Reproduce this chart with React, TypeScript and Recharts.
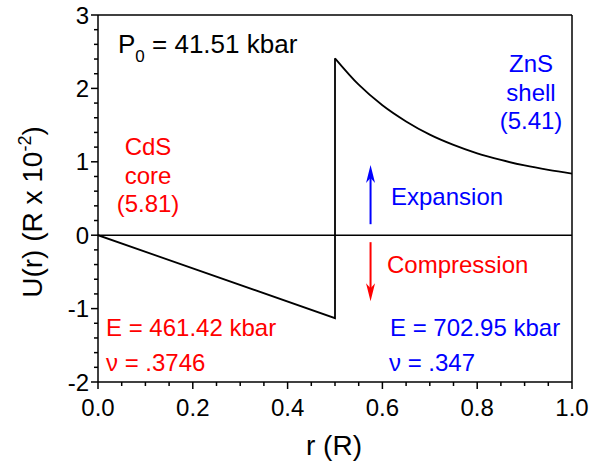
import { LineChart, Line, XAxis, YAxis, ReferenceLine } from "recharts";

// Displacement profile of a CdS/ZnS core/shell particle under pressure.
const coreR = [0, 0.5, 0.5];
const coreU = [0, -1.13, 2.41];

const shellR = [0.5, 0.55, 0.6, 0.65, 0.7, 0.75, 0.8, 0.85, 0.9, 0.95, 1.0];
const shellU = [2.41, 2.05, 1.77, 1.55, 1.37, 1.23, 1.115, 1.025, 0.95, 0.89, 0.84];

const xMajorTicks = [0, 0.2, 0.4, 0.6, 0.8, 1.0];
const yMajorTicks = [-2, -1, 0, 1, 2, 3];

const W = 601;
const H = 463;
const FONT = "'Liberation Sans', Arial, sans-serif";
const RED = "#ff0000";
const BLUE = "#0000ff";

const coreData = coreR.map((r, i) => ({ r, u: coreU[i] }));
const shellData = shellR.map((r, i) => ({ r, u: shellU[i] }));

// minor ticks: 4 per major step on x, 5 per major step on y
const xTicks: number[] = [];
for (let i = 0; i <= 20; i++) xTicks.push(Math.round(i * 5) / 100);
const yTicks: number[] = [];
for (let i = 0; i <= 25; i++) yTicks.push(Math.round((-2 + i * 0.2) * 10) / 10);

const isOn = (v: number, list: number[]) => list.some((t) => Math.abs(t - v) < 1e-6);

function XTick(props: any) {
  const { x, y, payload } = props;
  const major = isOn(payload.value, xMajorTicks);
  return (
    <g>
      <line x1={x} x2={x} y1={y} y2={y + (major ? 7 : 4)} stroke="#000" strokeWidth={1.5} />
      {major && (
        <text x={x} y={y + 34} textAnchor="middle" fontSize={24} fontFamily={FONT} fill="#000">
          {payload.value.toFixed(1)}
        </text>
      )}
    </g>
  );
}

function YTick(props: any) {
  const { x, y, payload } = props;
  const major = isOn(payload.value, yMajorTicks);
  return (
    <g>
      <line x1={x - (major ? 7 : 4)} x2={x} y1={y} y2={y} stroke="#000" strokeWidth={1.5} />
      {major && (
        <text x={x - 9} y={y + 8.5} textAnchor="end" fontSize={24} fontFamily={FONT} fill="#000">
          {String(payload.value)}
        </text>
      )}
    </g>
  );
}

// vertical arrow with a notched head at the second segment point
function arrowShape(color: string) {
  return (props: any) => {
    const { x1, y1, x2, y2 } = props;
    const dir = y2 < y1 ? -1 : 1;
    const len = 18;
    const half = 4.5;
    return (
      <g>
        <line x1={x1} y1={y1} x2={x2} y2={y2 - dir * 12} stroke={color} strokeWidth={2} />
        <polygon
          points={`${x2},${y2} ${x2 - half},${y2 - dir * len} ${x2},${y2 - dir * 13} ${x2 + half},${y2 - dir * len}`}
          fill={color}
        />
      </g>
    );
  };
}

const txt = { fontFamily: FONT, fontSize: 24 };

export default function App() {
  return (
    <div style={{ position: "absolute", left: 0, top: 0, width: W, height: H, background: "#fff" }}>
      <LineChart width={W} height={H} margin={{ top: 15, right: 29, bottom: 0, left: 0 }}>
        <XAxis
          type="number"
          dataKey="r"
          domain={[0, 1]}
          ticks={xTicks}
          interval={0}
          tick={<XTick />}
          tickLine={false}
          tickSize={0}
          tickMargin={0}
          height={81}
          axisLine={{ stroke: "#000", strokeWidth: 1.5 }}
          allowDataOverflow
        />
        <YAxis
          type="number"
          dataKey="u"
          domain={[-2, 3]}
          ticks={yTicks}
          interval={0}
          tick={<YTick />}
          tickLine={false}
          tickSize={0}
          tickMargin={0}
          width={98}
          axisLine={{ stroke: "#000", strokeWidth: 1.5 }}
          allowDataOverflow
        />
        {/* frame top / right */}
        <ReferenceLine y={3} stroke="#000" strokeWidth={1.5} />
        <ReferenceLine x={1} stroke="#000" strokeWidth={1.5} />
        <ReferenceLine y={0} stroke="#000" strokeWidth={1.5} />
        <ReferenceLine
          segment={[{ x: 0.575, y: 0.15 }, { x: 0.575, y: 0.955 }]}
          shape={arrowShape(BLUE)}
        />
        <ReferenceLine
          segment={[{ x: 0.575, y: -0.095 }, { x: 0.575, y: -0.9 }]}
          shape={arrowShape(RED)}
        />
        <Line
          data={coreData}
          dataKey="u"
          type="linear"
          stroke="#000"
          strokeWidth={1.8}
          dot={false}
          isAnimationActive={false}
        />
        <Line
          data={shellData}
          dataKey="u"
          type="monotone"
          stroke="#000"
          strokeWidth={1.8}
          dot={false}
          isAnimationActive={false}
        />
      </LineChart>
      <svg
        width={W}
        height={H}
        style={{ position: "absolute", left: 0, top: 0, pointerEvents: "none" }}
      >
        <text x={118} y={53} fontFamily={FONT} fontSize={26} fill="#000">
          P<tspan fontSize={17} dy={9}>0</tspan>
          <tspan dy={-9}> = 41.51 kbar</tspan>
        </text>

        <g {...txt} fill={RED} textAnchor="middle">
          <text x={148} y={155}>CdS</text>
          <text x={148} y={184}>core</text>
          <text x={148} y={212}>(5.81)</text>
        </g>
        <g {...txt} fill={BLUE} textAnchor="middle">
          <text x={531} y={72}>ZnS</text>
          <text x={531} y={101}>shell</text>
          <text x={531} y={129}>(5.41)</text>
        </g>

        <text x={391} y={205} {...txt} fill={BLUE}>Expansion</text>
        <text x={387} y={273} {...txt} fill={RED}>Compression</text>

        <text x={106} y={336} {...txt} fill={RED}>E = 461.42 kbar</text>
        <text x={106} y={371} {...txt} fill={RED}>ν = .3746</text>
        <text x={390} y={336} {...txt} fill={BLUE}>E = 702.95 kbar</text>
        <text x={389} y={371} {...txt} fill={BLUE}>ν = .347</text>

        <text x={334} y={455} textAnchor="middle" fontFamily={FONT} fontSize={28} fill="#000">
          r (R)
        </text>
        <text
          transform="translate(42,212) rotate(-90)"
          textAnchor="middle"
          fontFamily={FONT}
          fontSize={28}
          fill="#000"
        >
          U(r) (R x 10<tspan fontSize={18} dy={-11}>-2</tspan>
          <tspan dy={11}>)</tspan>
        </text>
      </svg>
    </div>
  );
}
